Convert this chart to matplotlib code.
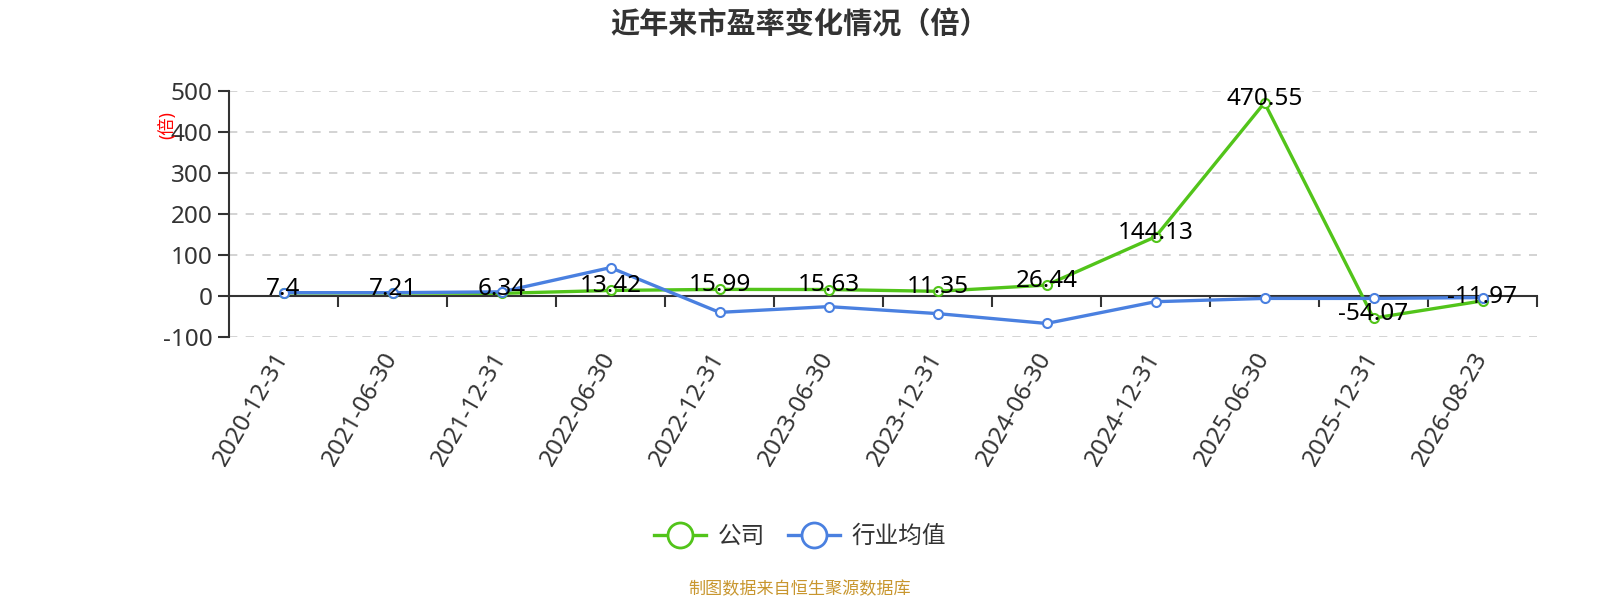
import matplotlib
matplotlib.use("Agg")
import matplotlib.pyplot as plt
from matplotlib.lines import Line2D

# latin glyphs from Noto Sans, chinese falls through to the CJK family
plt.rcParams['font.family'] = ['Noto Sans', 'Noto Sans CJK SC', 'DejaVu Sans']
plt.rcParams['axes.unicode_minus'] = False

# data ------------------------------------------------------------------------
dates = ['2020-12-31', '2021-06-30', '2021-12-31', '2022-06-30', '2022-12-31',
         '2023-06-30', '2023-12-31', '2024-06-30', '2024-12-31', '2025-06-30',
         '2025-12-31', '2026-08-23']
company_pe = [7.4, 7.21, 6.34, 13.42, 15.99, 15.63, 11.35, 26.44, 144.13,
              470.55, -54.07, -11.97]
industry_pe = [8, 8, 10, 69, -40, -26, -43, -67, -14, -6, -6, -4]
yticks = [-100, 0, 100, 200, 300, 400, 500]

green = '#52C41A'
blue = '#4A80E0'
txt = '#333333'

fig = plt.figure(figsize=(16, 6), dpi=100)
ax = fig.add_axes([229 / 1600, 1 - 337 / 600, (1537 - 229) / 1600, (337 - 90.7) / 600])

x = list(range(len(dates)))

ax.plot(x, company_pe, color=green, lw=2.4, marker='o', ms=6.5,
        mfc='white', mec=green, mew=1.5, zorder=3)
ax.plot(x, industry_pe, color=blue, lw=2.4, marker='o', ms=6.5,
        mfc='white', mec=blue, mew=1.5, zorder=4)

# value labels for the company line
for xi, v in zip(x, company_pe):
    ax.annotate(f'{v:g}', (xi, v), xytext=(0, 3), textcoords='offset points',
                ha='center', va='center', fontsize=17.5, color='black', zorder=6)

# axes ------------------------------------------------------------------------
ax.set_xlim(-0.5, len(dates) - 0.5)
ax.set_ylim(-100, 500)
ax.set_yticks(yticks)
ax.tick_params(axis='y', length=8, width=1.5, color=txt, labelsize=17.5,
               labelcolor=txt, pad=4)
ax.yaxis.grid(True, linestyle=(0, (5, 5)), color='#cccccc', lw=1.2)
ax.set_axisbelow(True)

for s in ['top', 'right']:
    ax.spines[s].set_visible(False)
ax.spines['left'].set_color(txt)
ax.spines['left'].set_linewidth(1.5)
ax.spines['bottom'].set_position(('data', 0))
ax.spines['bottom'].set_color(txt)
ax.spines['bottom'].set_linewidth(1.5)
ax.spines['bottom'].set_zorder(2)

# tick marks on the zero line at category boundaries
ax.set_xticks([i + 0.5 for i in x])
ax.set_xticklabels([])
ax.tick_params(axis='x', length=8, width=1.5, color=txt, direction='out')

# category labels at the bottom
sec = ax.secondary_xaxis(0)
sec.set_xticks(x)
sec.set_xticklabels(dates, rotation=60, ha='right', va='center',
                    rotation_mode='anchor', fontsize=17.5, color=txt)
sec.tick_params(length=0, pad=12)
sec.spines['bottom'].set_visible(False)

ax.text(-0.047, 0.86, '(倍)', transform=ax.transAxes, rotation=90,
        color='red', fontsize=12.5, ha='center', va='center')

# title, legend, source ------------------------------------------------------
fig.text(0.5, 1 - 24 / 600, '近年来市盈率变化情况（倍）', ha='center', va='center',
         fontsize=21, fontweight='bold', color=txt,
         family=['Noto Sans CJK SC', 'DejaVu Sans'])

handles = [Line2D([], [], color=green, lw=2.4, marker='o', ms=18, mfc='white',
                  mec=green, mew=2),
           Line2D([], [], color=blue, lw=2.4, marker='o', ms=18, mfc='white',
                  mec=blue, mew=2)]
fig.legend(handles, ['公司', '行业均值'], loc='center', bbox_to_anchor=(0.5, 1 - 537 / 600),
           ncol=2, frameon=False, fontsize=17, handlelength=2.2, handletextpad=0.5,
           columnspacing=1.0, labelcolor=txt)

fig.text(0.5, 1 - 590 / 600, '制图数据来自恒生聚源数据库', ha='center', va='center',
         fontsize=12.3, color='#C8962E')

fig.savefig('out.png', dpi=100)
